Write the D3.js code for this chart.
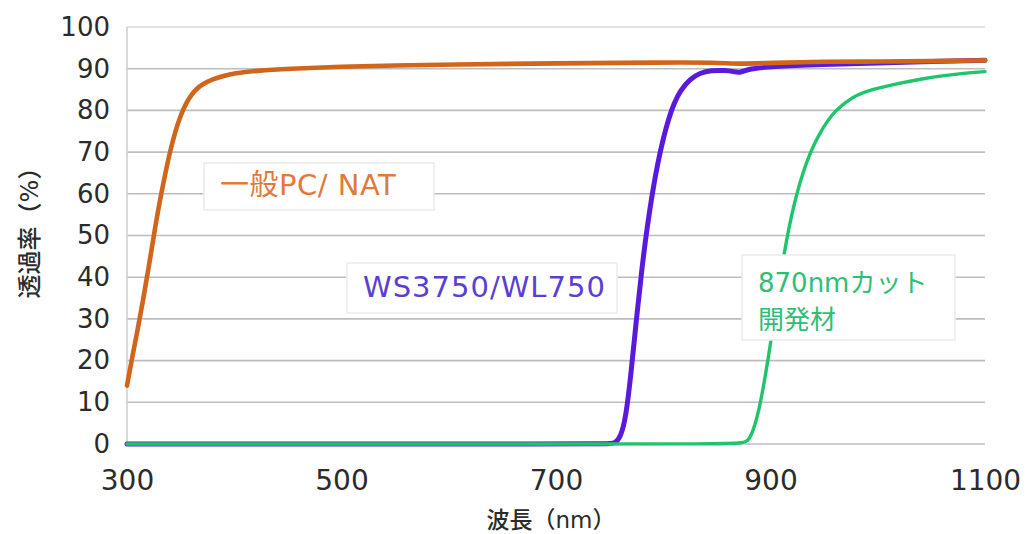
<!DOCTYPE html>
<html>
<head>
<meta charset="utf-8">
<script src="https://cdn.jsdelivr.net/npm/d3@7"></script>
<style>
  body { margin: 0; background: #fff; }
  text { font-family: "DejaVu Sans", "Noto Sans CJK JP", sans-serif; }
</style>
</head>
<body>
<div id="chart-area"></div>
<script>
// wavelength (nm) / transmittance (%)
var pcWave = [300, 305, 310, 315, 320, 325, 330, 335, 340, 345, 350, 355, 360, 365, 370, 380, 390, 400, 420, 450, 500, 550, 600, 700, 800, 850, 870, 900, 950, 1000, 1050, 1100];
var pcVal  = [14, 21, 27.5, 34.5, 42, 50, 57.5, 64, 70, 75, 78.8, 81.7, 83.8, 85.2, 86.2, 87.5, 88.3, 88.9, 89.5, 90, 90.5, 90.8, 91, 91.3, 91.5, 91.5, 91.1, 91.4, 91.7, 91.7, 91.8, 92];

var wsWave = [300, 500, 700, 750, 755, 760, 765, 770, 775, 780, 785, 790, 795, 800, 805, 810, 816, 825, 834, 845, 858, 866, 872, 880, 900, 950, 1000, 1050, 1100];
var wsVal  = [0, 0, 0, 0, 0.2, 1.5, 6, 17, 30, 42, 52, 60.5, 67.5, 73.3, 78, 81.7, 84.8, 87.5, 89, 89.6, 89.6, 89.3, 89, 90, 90.5, 91, 91.4, 91.7, 92];

var ncWave = [300, 500, 700, 850, 876, 880, 885, 890, 895, 900, 905, 910, 915, 920, 925, 930, 935, 940, 945, 950, 955, 960, 970, 980, 990, 1000, 1020, 1040, 1060, 1080, 1100];
var ncVal  = [0, 0, 0, 0, 0.2, 1, 4, 9, 16, 24, 33, 41.5, 49, 55.3, 60.5, 64.8, 68.5, 71.5, 74, 76.2, 78.1, 79.7, 82, 83.6, 84.6, 85.3, 86.5, 87.5, 88.3, 88.9, 89.3];

var xTicks = [300, 500, 700, 900, 1100];
var yTicks = [0, 10, 20, 30, 40, 50, 60, 70, 80, 90, 100];

var seriesNames = ["一般PC/ NAT", "WS3750/WL750", "870nmカット", "開発材"];

var width = 1028, height = 534;
var svg = d3.select("#chart-area")
    .append("svg")
    .attr("width", width)
    .attr("height", height);

var x = d3.scaleLinear().domain([300, 1100]).range([127, 985]);
var y = d3.scaleLinear().domain([0, 100]).range([444, 27]);

// grid
svg.append("g")
    .selectAll("line")
    .data(yTicks)
    .enter()
    .append("line")
        .attr("x1", x(300))
        .attr("x2", x(1100))
        .attr("y1", (d) => y(d))
        .attr("y2", (d) => y(d))
        .attr("stroke", (d) => d == 100 ? "#d9d9d9" : "#bdbdbd")
        .attr("stroke-width", 1.6);

svg.append("line")
    .attr("x1", x(300)).attr("x2", x(300))
    .attr("y1", y(100)).attr("y2", y(0))
    .attr("stroke", "#d0d0d0")
    .attr("stroke-width", 1.6);

// axes
var yAxis = d3.axisLeft(y).tickValues(yTicks).tickSize(0).tickPadding(17).tickFormat(d3.format("d"));
svg.append("g")
    .attr("transform", "translate(" + x(300) + ",0)")
    .call(yAxis)
    .call((g) => g.select(".domain").remove())
    .selectAll("text")
        .attr("font-size", 26)
        .attr("fill", "#2b2b2b")
        .attr("font-family", "'DejaVu Sans', sans-serif");

var xAxis = d3.axisBottom(x).tickValues(xTicks).tickSize(0).tickFormat(d3.format("d"));
svg.append("g")
    .attr("transform", "translate(0," + y(0) + ")")
    .call(xAxis)
    .call((g) => g.select(".domain").remove())
    .selectAll("text")
        .attr("y", 46)
        .attr("dy", null)
        .attr("font-size", 28)
        .attr("fill", "#2b2b2b")
        .attr("font-family", "'DejaVu Sans', sans-serif");

// axis titles
svg.append("text")
    .attr("transform", "translate(30,227) rotate(-90)")
    .attr("text-anchor", "middle")
    .attr("dominant-baseline", "central")
    .attr("font-size", 24)
    .attr("font-weight", 500)
    .attr("fill", "#2b2b2b")
    .attr("font-family", "'Noto Sans CJK JP', sans-serif")
    .text("透過率（%）");

svg.append("text")
    .attr("x", 551)
    .attr("y", 528)
    .attr("text-anchor", "middle")
    .attr("font-size", 23)
    .attr("font-weight", 500)
    .attr("fill", "#2b2b2b")
    .attr("font-family", "'Noto Sans CJK JP', sans-serif")
    .text("波長（nm）");

// curves
var line = d3.line()
    .x((d) => x(d[0]))
    .y((d) => y(d[1]))
    .curve(d3.curveBasis);

function draw(waves, vals, color, w) {
    svg.append("path")
        .datum(d3.zip(waves, vals))
        .attr("d", line)
        .attr("fill", "none")
        .attr("stroke", color)
        .attr("stroke-width", w)
        .attr("stroke-linejoin", "round")
        .attr("stroke-linecap", "round");
}

draw(wsWave, wsVal, "#5a1ade", 5);
draw(ncWave, ncVal, "#1fc46b", 3.4);
draw(pcWave, pcVal, "#d2651c", 4.6);

// labels
function label(bx, by, bw, bh, lines, color, size, base, step, ls) {
    svg.append("rect")
        .attr("x", bx).attr("y", by)
        .attr("width", bw).attr("height", bh)
        .attr("fill", "#fff")
        .attr("stroke", "#ebebeb")
        .attr("stroke-width", 1.5);
    lines.forEach((t, i) => {
        svg.append("text")
            .attr("x", bx + 16)
            .attr("y", base + i * step)
            .attr("font-size", size)
            .attr("letter-spacing", ls)
            .attr("fill", color)
            .text(t);
    });
}

label(204, 163, 230, 47, [seriesNames[0]], "#e07a3c", 29, 195, 0, 0.5);
label(347, 263, 270, 50, [seriesNames[1]], "#5a3fd2", 29, 297, 0, 1);
label(742, 255, 213, 85, [seriesNames[2], seriesNames[3]], "#2fbe76", 26, 292, 37, 0);
</script>
</body>
</html>
